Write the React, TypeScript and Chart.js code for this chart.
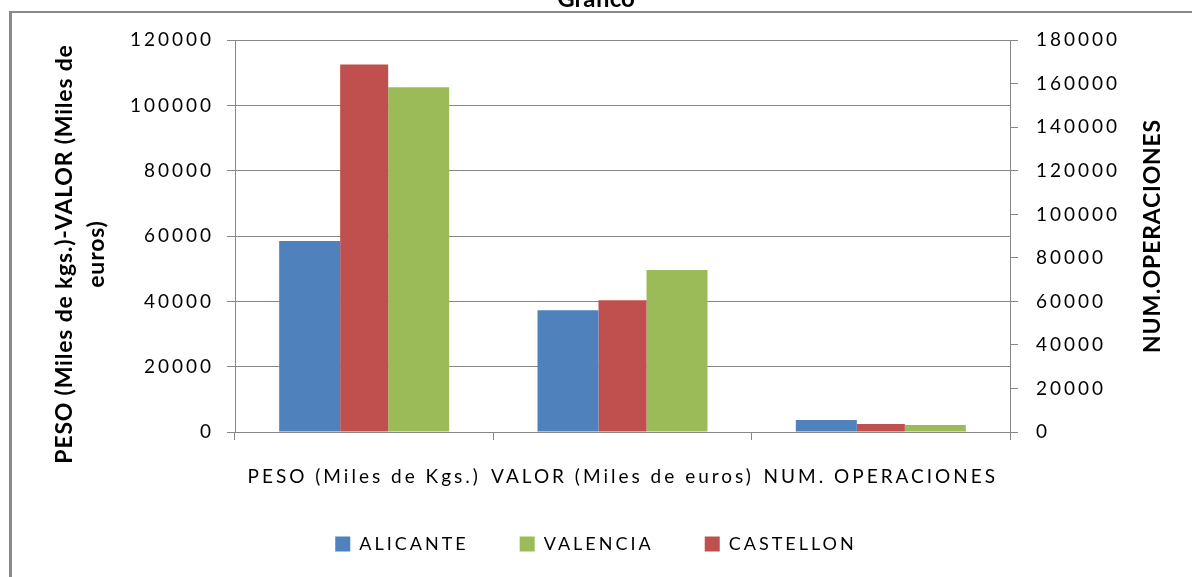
import React, { useEffect, useRef } from 'react';
import { Chart, registerables } from 'chart.js';

Chart.register(...registerables);

// ---- data ----
const categories = ['PESO (Miles de Kgs.)', 'VALOR (Miles de euros)', 'NUM. OPERACIONES'];
const seriesNames = ['ALICANTE', 'CASTELLON', 'VALENCIA'];
const alicanteValues = [58500, 37300, 3700];
const castellonValues = [112600, 40400, 2450];
const valenciaValues = [105600, 49600, 2150];
const legendOrder = ['ALICANTE', 'VALENCIA', 'CASTELLON'];
const leftTickLabels = ['0', '20000', '40000', '60000', '80000', '100000', '120000'];
const rightTickLabels = ['0', '20000', '40000', '60000', '80000', '100000', '120000', '140000', '160000', '180000'];
const chartTitle = 'Gráfico';
const leftAxisTitle = ['PESO (Miles de kgs.)-VALOR (Miles de', 'euros)'];
const rightAxisTitle = 'NUM.OPERACIONES';

// ---- style ----
const COLORS = ['#4F81BD', '#C0504D', '#9BBB59'];
const BAR_PCT = [1.119, 0.881, 1.119];
const GRID = '#868686';
const FONT = 'Lato';
const SPACING = '3px';

const decor = {
  id: 'decor',
  beforeUpdate(chart: any) {
    chart.ctx.letterSpacing = SPACING;
  },
  beforeDraw(chart: any) {
    const ctx = chart.ctx;
    ctx.letterSpacing = SPACING;
    const tb = chart.titleBlock;
    if (tb && !tb.__patched) {
      const orig = tb.draw.bind(tb);
      tb.draw = (...a: any[]) => {
        ctx.save();
        ctx.letterSpacing = '0px';
        orig(...a);
        ctx.restore();
      };
      tb.__patched = true;
    }
    ctx.save();
    ctx.strokeStyle = '#898989';
    ctx.lineWidth = 2;
    ctx.beginPath();
    ctx.moveTo(9, 32);
    ctx.lineTo(1192, 32);
    ctx.stroke();
    ctx.lineWidth = 3;
    ctx.beginPath();
    ctx.moveTo(10.5, 31);
    ctx.lineTo(10.5, 600);
    ctx.stroke();
    ctx.restore();
  },
  afterDraw(chart: any) {
    const ctx = chart.ctx;
    ctx.save();
    ctx.letterSpacing = '0.8px';
    ctx.fillStyle = '#000';
    ctx.textAlign = 'center';
    ctx.textBaseline = 'middle';
    ctx.font = `bold 23px ${FONT}`;
    // left axis title (two lines)
    const lx = [64.4, 96.4];
    leftAxisTitle.forEach((line, i) => {
      ctx.save();
      ctx.translate(lx[i], 274);
      ctx.rotate(-Math.PI / 2);
      ctx.fillText(line, 0, 0);
      ctx.restore();
    });
    // right axis title
    ctx.save();
    ctx.translate(1153, 256);
    ctx.rotate(-Math.PI / 2);
    ctx.fillText(rightAxisTitle, 0, 0);
    ctx.restore();
    ctx.restore();
  },
};

export default function App() {
  const ref = useRef<HTMLCanvasElement>(null);
  useEffect(() => {
    const seriesValues = [alicanteValues, castellonValues, valenciaValues];
    const tickFont = { family: FONT, size: 19 };
    const chart = new Chart(ref.current as HTMLCanvasElement, {
      type: 'bar',
      data: {
        labels: categories,
        datasets: seriesNames.map((name, i) => ({
          label: name,
          data: seriesValues[i],
          backgroundColor: COLORS[i],
          borderWidth: 0,
          barPercentage: BAR_PCT[i],
          categoryPercentage: 0.633,
          yAxisID: 'y',
        })),
      },
      options: {
        responsive: false,
        animation: false,
        devicePixelRatio: 1,
        layout: { padding: { left: 0, right: 0, top: 0, bottom: 14 } },
        plugins: {
          title: {
            display: true,
            text: chartTitle,
            color: '#000',
            font: { family: FONT, size: 24, weight: 'bold', lineHeight: 1.2 },
            padding: { top: 4.9, bottom: 26.6 },
          },
          legend: {
            position: 'bottom',
            labels: {
              boxWidth: 15,
              boxHeight: 15,
              padding: 51,
              color: '#000',
              font: { family: FONT, size: 18 },
              sort: (a: any, b: any) => legendOrder.indexOf(a.text) - legendOrder.indexOf(b.text),
            },
          },
          tooltip: { enabled: false },
        },
        scales: {
          x: {
            type: 'category',
            grid: { drawOnChartArea: false, color: GRID, tickLength: 8, offset: true },
            border: { color: GRID },
            ticks: { color: '#000', font: tickFont, padding: -56.6, mirror: true, maxRotation: 0, autoSkip: false },
            afterFit: (s: any) => { s.height = 52; },
          },
          y: {
            position: 'left',
            min: 0,
            max: 120000,
            ticks: { stepSize: 20000, color: '#000', font: tickFont, padding: 13, callback: (_v: any, i: number) => leftTickLabels[i] },
            grid: { color: GRID, tickLength: 8 },
            border: { color: GRID },
            afterFit: (s: any) => { s.width = 235; },
          },
          y2: {
            position: 'right',
            min: 0,
            max: 180000,
            ticks: { stepSize: 20000, color: '#000', font: tickFont, padding: 18, callback: (_v: any, i: number) => rightTickLabels[i] },
            grid: { drawOnChartArea: false, color: GRID, tickLength: 8 },
            border: { color: GRID },
            afterFit: (s: any) => { s.width = 182; },
          },
        },
      } as any,
      plugins: [decor],
    });
    return () => chart.destroy();
  }, []);
  return (
    <div style={{ position: 'fixed', left: 0, top: -20, width: 1192, height: 597 }}>
      <canvas ref={ref} width={1192} height={597} style={{ width: '1192px', height: '597px', display: 'block' }} />
    </div>
  );
}
